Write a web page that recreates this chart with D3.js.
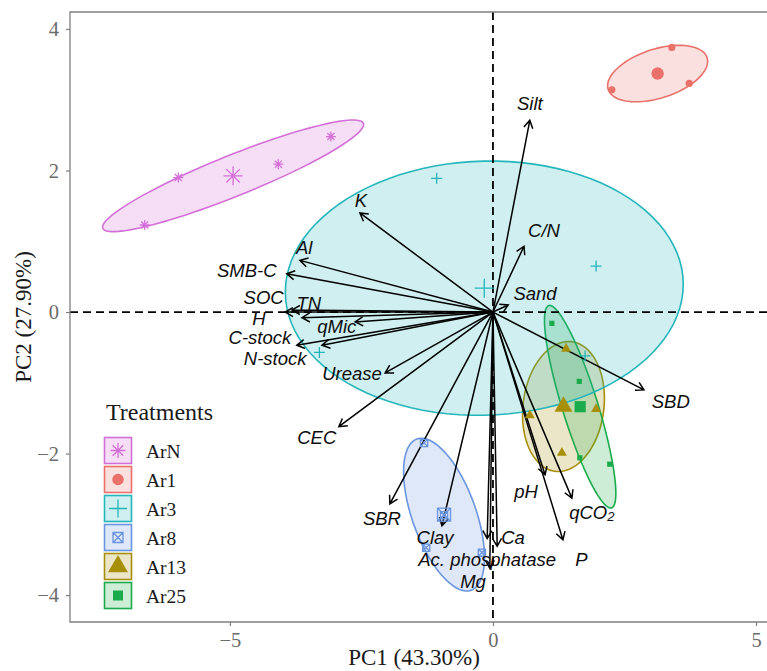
<!DOCTYPE html>
<html>
<head>
<meta charset="utf-8">
<title>PCA biplot</title>
<script src="https://cdn.jsdelivr.net/npm/d3@7"></script>
<style>
body { margin:0; background:#fff; overflow:hidden; }
svg { display:block; }
.axis path { display:none; }
.axis line { stroke:#7f7f7f; stroke-width:1.2px; }
.axis text { font-family:"Liberation Serif", "Times New Roman", serif; font-size:20.5px; fill:#6b6b6b; }
.vlab { font-family:"Liberation Sans", Arial, sans-serif; font-style:italic; font-size:18.5px; fill:#0d0d0d; }
.ttl { font-family:"Liberation Serif", "Times New Roman", serif; fill:#1a1a1a; }
</style>
</head>
<body>
<svg id="chart" width="767" height="671"></svg>
<script>
// treatments, legend order
var groups = ["ArN", "Ar1", "Ar3", "Ar8", "Ar13", "Ar25"];
var groupColors = ["#d46fd8", "#ea7169", "#24b6bb", "#6a95e0", "#a88f0a", "#1aab4b"];
var groupShapes = ["asterisk", "circle", "plus", "boxcross", "triangle", "square"];

// sample scores on PC1 / PC2
var scoreGroup = ["ArN","ArN","ArN","ArN",
                  "Ar1","Ar1","Ar1","Ar1",
                  "Ar3","Ar3","Ar3","Ar3",
                  "Ar8","Ar8","Ar8","Ar8",
                  "Ar13","Ar13","Ar13","Ar13",
                  "Ar25","Ar25","Ar25","Ar25"];
var scorePC1 = [-6.62, -5.98, -4.08, -3.08,
                 3.40,  2.26,  3.73,  3.13,
                -1.07,  1.96, -3.30,  1.75,
                -1.31, -1.27, -0.21, -0.93,
                 0.70,  1.39,  1.96,  1.31,
                 1.12,  1.64,  1.65,  2.22];
var scorePC2 = [ 1.23,  1.90,  2.09,  2.48,
                 3.74,  3.14,  3.23,  3.37,
                 1.89,  0.65, -0.57, -0.62,
                -1.85, -3.33, -3.40, -2.87,
                -1.46, -0.52, -1.37, -1.99,
                -0.16, -0.98, -2.06, -2.15];

// variable loadings (arrow tips) and where the names are placed
var varNames = ["Silt","C/N","Sand","K","Al","SMB-C","SOC","TN","H","qMic","C-stock","N-stock",
                "Urease","CEC","SBR","Clay","Ca","Ac. phosphatase","Mg","pH","qCO2","P","SBD"];
var loadPC1 = [ 0.70,  0.59,  0.29, -2.53, -3.67, -3.92, -3.95, -3.82, -3.63, -2.62, -3.73, -3.25,
               -2.05, -2.93, -1.96, -0.97,  0.08, -0.11, -0.06,  0.99,  1.50,  1.33,  2.87];
var loadPC2 = [ 2.71,  0.93,  0.10,  1.40,  0.73,  0.54,  0.00,  0.03, -0.08, -0.14, -0.47, -0.47,
               -0.86, -1.62, -2.71, -3.02, -3.31, -3.20, -3.62, -2.30, -2.63, -3.22, -1.10];
var labelPC1 = [ 0.70,  0.97,  0.80, -2.51, -3.59, -4.68, -4.36, -3.50, -4.45, -2.97, -4.43, -4.14,
               -2.68, -3.35, -2.11, -1.10,  0.38, -0.11, -0.38,  0.63,  1.88,  1.68,  3.38];
var labelPC2 = [ 2.95,  1.15,  0.27,  1.58,  0.92,  0.59,  0.21,  0.12, -0.09, -0.20, -0.36, -0.66,
               -0.86, -1.77, -2.91, -3.18, -3.18, -3.50, -3.81, -2.53, -2.83, -3.50, -1.26];

var xTicks = [-5, 0, 5];
var yTicks = [-4, -2, 0, 2, 4];
var ellipseProb = 0.68;

var svg = d3.select("#chart");
var pLeft = 70, pRight = 780, pTop = 12, pBottom = 622;

var x = d3.scaleLinear().domain([-8.04, 5.456]).range([pLeft, pRight]);
var y = d3.scaleLinear().domain([-4.38, 4.24]).range([pBottom, pTop]);
var color = d3.scaleOrdinal().domain(groups).range(groupColors);
var shapeOf = d3.scaleOrdinal().domain(groups).range(groupShapes);

var scores = scoreGroup.map(function(g, i) { return {g: g, x: scorePC1[i], y: scorePC2[i]}; });
var byGroup = d3.group(scores, function(d) { return d.g; });

// ggbiplot style normal ellipse: mu + ed * circle %*% chol(sigma)
function ellipsePts(pts) {
    var n = pts.length;
    var mx = d3.mean(pts, function(d) { return d.x; });
    var my = d3.mean(pts, function(d) { return d.y; });
    var sxx = 0, syy = 0, sxy = 0;
    pts.forEach(function(d) {
        sxx += (d.x - mx) * (d.x - mx);
        syy += (d.y - my) * (d.y - my);
        sxy += (d.x - mx) * (d.y - my);
    });
    sxx /= n - 1; syy /= n - 1; sxy /= n - 1;
    var a = Math.sqrt(sxx), b = sxy / a, c = Math.sqrt(Math.max(syy - b * b, 0));
    var ed = Math.sqrt(-2 * Math.log(1 - ellipseProb));
    var out = [];
    for (var k = 0; k <= 100; k++) {
        var t = -Math.PI + 2 * Math.PI * k / 100;
        out.push([mx + ed * a * Math.cos(t), my + ed * (b * Math.cos(t) + c * Math.sin(t))]);
    }
    return out;
}

function shapePath(shape, r) {
    var k = r * Math.SQRT1_2;
    if (shape == "asterisk")
        return "M" + (-r) + ",0H" + r + "M0," + (-r) + "V" + r +
               "M" + (-k) + "," + (-k) + "L" + k + "," + k + "M" + (-k) + "," + k + "L" + k + "," + (-k);
    if (shape == "plus") return "M" + (-r) + ",0H" + r + "M0," + (-r) + "V" + r;
    if (shape == "boxcross")
        return "M" + (-r) + "," + (-r) + "H" + r + "V" + r + "H" + (-r) + "Z" +
               "M" + (-r) + "," + (-r) + "L" + r + "," + r + "M" + (-r) + "," + r + "L" + r + "," + (-r);
    if (shape == "circle") return d3.symbol(d3.symbolCircle, Math.PI * r * r)();
    if (shape == "triangle") return d3.symbol(d3.symbolTriangle, r * r * 1.73)();
    return d3.symbol(d3.symbolSquare, 4 * r * r)();
}
function isFilled(shape) { return shape == "circle" || shape == "triangle" || shape == "square"; }

// shape sizes: small points, group centroids, legend keys
var smallR = {asterisk:5, circle:3.6, plus:5.5, boxcross:3.6, triangle:5, square:2.6};
var bigR   = {asterisk:9.5, circle:6.2, plus:9.5, boxcross:6.5, triangle:9, square:5.6};
var keyR   = {asterisk:7.5, circle:5.8, plus:9, boxcross:5, triangle:10, square:5};

function drawShape(sel, shape, r, col) {
    sel.append("path")
        .attr("d", shapePath(shape, r))
        .attr("fill", isFilled(shape) ? col : "none")
        .attr("stroke", isFilled(shape) ? "none" : col)
        .attr("stroke-width", 1.3);
}

svg.append("defs").append("clipPath").attr("id", "panel")
    .append("rect").attr("x", pLeft).attr("y", pTop).attr("width", pRight - pLeft).attr("height", pBottom - pTop);

var plot = svg.append("g").attr("clip-path", "url(#panel)");

// ellipses, in factor level order
var line = d3.line().x(function(d) { return x(d[0]); }).y(function(d) { return y(d[1]); });
groups.slice().sort().forEach(function(g) {
    plot.append("path")
        .attr("d", line(ellipsePts(byGroup.get(g))))
        .attr("fill", color(g)).attr("fill-opacity", 0.22)
        .attr("stroke", color(g)).attr("stroke-width", 1.6);
});

// reference lines
plot.append("line").attr("x1", x(0)).attr("x2", x(0)).attr("y1", pTop).attr("y2", pBottom)
    .attr("stroke", "#000").attr("stroke-width", 1.8).attr("stroke-dasharray", "8,5");
plot.append("line").attr("x1", pLeft).attr("x2", pRight).attr("y1", y(0)).attr("y2", y(0))
    .attr("stroke", "#000").attr("stroke-width", 1.8).attr("stroke-dasharray", "8,5");

// loadings arrows
var hl = 9, ha = Math.PI / 6;
varNames.forEach(function(v, i) {
    var ox = x(0), oy = y(0), tx = x(loadPC1[i]), ty = y(loadPC2[i]);
    var ang = Math.atan2(ty - oy, tx - ox);
    var p = d3.path();
    p.moveTo(ox, oy); p.lineTo(tx, ty);
    p.moveTo(tx - hl * Math.cos(ang - ha), ty - hl * Math.sin(ang - ha));
    p.lineTo(tx, ty);
    p.lineTo(tx - hl * Math.cos(ang + ha), ty - hl * Math.sin(ang + ha));
    plot.append("path").attr("d", p.toString())
        .attr("fill", "none").attr("stroke", "#000").attr("stroke-width", 1.5);
});

// sample points
scores.forEach(function(d) {
    var g = plot.append("g").attr("transform", "translate(" + x(d.x) + "," + y(d.y) + ")");
    drawShape(g, shapeOf(d.g), smallR[shapeOf(d.g)], color(d.g));
});
// group centroids
groups.forEach(function(gname) {
    var pts = byGroup.get(gname);
    var mx = d3.mean(pts, function(d) { return d.x; }), my = d3.mean(pts, function(d) { return d.y; });
    var g = plot.append("g").attr("transform", "translate(" + x(mx) + "," + y(my) + ")");
    drawShape(g, shapeOf(gname), bigR[shapeOf(gname)], color(gname));
});

// variable names
varNames.forEach(function(v, i) {
    var t = plot.append("text").attr("class", "vlab")
        .attr("x", x(labelPC1[i])).attr("y", y(labelPC2[i]))
        .attr("dy", "0.36em").attr("text-anchor", "middle");
    if (v == "qCO2") {
        t.append("tspan").text("qCO");
        t.append("tspan").attr("font-size", "13px").attr("dy", "2").text("2");
    } else {
        t.text(v);
    }
});

// panel border (right side falls outside the picture)
svg.append("path")
    .attr("d", "M" + pRight + "," + pTop + "H" + pLeft + "V" + pBottom + "H" + pRight)
    .attr("fill", "none").attr("stroke", "#7f7f7f").attr("stroke-width", 1.3);

// axes
svg.append("g").attr("class", "axis").attr("transform", "translate(0," + pBottom + ")")
    .call(d3.axisBottom(x).tickValues(xTicks).tickSize(4).tickPadding(6));
svg.append("g").attr("class", "axis").attr("transform", "translate(" + pLeft + ",0)")
    .call(d3.axisLeft(y).tickValues(yTicks).tickSize(4).tickPadding(7));

svg.append("text").attr("class", "ttl").attr("x", 414).attr("y", 665)
    .attr("text-anchor", "middle").attr("font-size", "23px").text("PC1 (43.30%)");
svg.append("text").attr("class", "ttl")
    .attr("transform", "translate(31," + ((pTop + pBottom) / 2) + ") rotate(-90)")
    .attr("text-anchor", "middle").attr("font-size", "23px").text("PC2 (27.90%)");

// legend
var leg = svg.append("g");
leg.append("text").attr("class", "ttl").attr("x", 106).attr("y", 420)
    .attr("font-size", "24px").text("Treatments");
groups.forEach(function(gname, i) {
    var cy = 450.5 + i * 29;
    leg.append("rect").attr("x", 104.5).attr("y", cy - 13).attr("width", 27).attr("height", 26)
        .attr("fill", color(gname)).attr("fill-opacity", 0.22)
        .attr("stroke", color(gname)).attr("stroke-width", 1.6);
    var k = leg.append("g").attr("transform", "translate(118," + cy + ")");
    drawShape(k, shapeOf(gname), keyR[shapeOf(gname)], color(gname));
    leg.append("text").attr("class", "ttl").attr("x", 146).attr("y", cy + 7)
        .attr("font-size", "19.5px").text(gname);
});
</script>
</body>
</html>
